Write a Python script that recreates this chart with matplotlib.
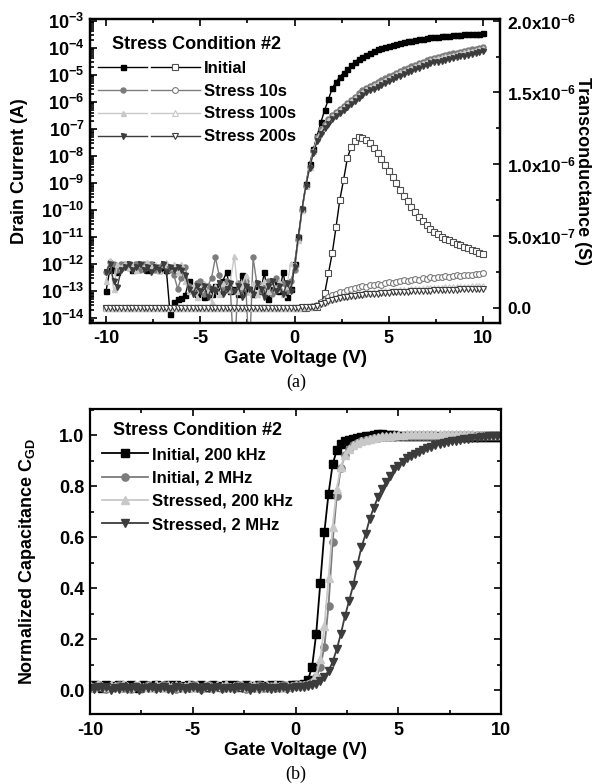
import numpy as np
import matplotlib
matplotlib.use("Agg")
import matplotlib.pyplot as plt
from matplotlib.ticker import LogLocator, FuncFormatter, MultipleLocator, NullFormatter
from matplotlib.legend_handler import HandlerTuple

#------------------------------------------------------------------------------
#Data

# gate voltage sweep, -10 V .. 10 V in 0.2 V steps
vg = np.linspace(-10, 10, 101)

# (a) drain current, log10(Id / A)
id_initial_log = [
    -13.0, -12.2, -12.1, -12.3, -12.1, -12.0, -12.1, -12.2, -12.0, -12.1,
    -12.1, -12.2, -12.0, -12.1, -12.2, -12.1, -12.2, -13.85, -13.4, -13.3,
    -13.25, -13.15, -12.6, -12.9, -13.1, -13.0, -13.2, -12.9, -13.1, -12.8,
    -13.0, -12.6, -12.3, -13.0, -12.9, -13.1, -12.4, -13.0, -12.9, -13.1,
    -12.8, -13.0, -12.3, -13.3, -12.9, -12.7, -13.0, -12.3, -13.2, -12.9,
    -12.0, -11.0, -9.95, -9.05, -8.3, -7.75, -7.25, -6.75, -6.3, -5.9,
    -5.5, -5.27, -5.07, -4.93, -4.8, -4.65, -4.52, -4.42, -4.34, -4.26,
    -4.18, -4.12, -4.06, -4.01, -3.96, -3.92, -3.89, -3.86, -3.83, -3.80,
    -3.77, -3.74, -3.72, -3.69, -3.67, -3.64, -3.62, -3.60, -3.59, -3.58,
    -3.56, -3.55, -3.54, -3.53, -3.52, -3.51, -3.50, -3.49, -3.48, -3.48,
    -3.47]
id_s10_log = [
    -12.3, -11.9, -12.0, -12.2, -12.0, -12.1, -12.0, -12.1, -12.0, -12.2,
    -12.0, -12.1, -12.0, -12.2, -12.1, -12.0, -12.1, -12.2, -12.4, -12.9,
    -12.5, -12.1, -12.8, -13.0, -12.7, -12.6, -13.1, -12.8, -12.5, -11.75,
    -12.4, -12.9, -12.6, -13.0, -15.5, -12.7, -12.9, -12.6, -15.5, -11.75,
    -12.7, -13.0, -12.8, -12.6, -13.1, -12.5, -12.9, -12.7, -13.0, -12.6,
    -12.2, -11.1, -10.0, -9.1, -8.4, -7.8, -7.3, -7.02, -6.82, -6.64,
    -6.48, -6.36, -6.25, -6.14, -6.03, -5.92, -5.81, -5.69, -5.58, -5.48,
    -5.41, -5.34, -5.27, -5.2, -5.13, -5.06, -4.99, -4.92, -4.86, -4.8,
    -4.74, -4.69, -4.63, -4.57, -4.52, -4.46, -4.41, -4.37, -4.34, -4.31,
    -4.27, -4.24, -4.21, -4.18, -4.15, -4.12, -4.09, -4.06, -4.03, -4.0,
    -3.97]
id_s100_log = [
    -12.6, -11.85, -12.9, -12.0, -12.1, -11.95, -12.1, -12.0, -12.2, -12.0,
    -12.1, -11.9, -12.1, -12.0, -12.2, -12.0, -11.9, -12.1, -12.0, -12.3,
    -12.0, -12.6, -13.0, -12.8, -13.2, -12.9, -12.7, -13.0, -13.4, -12.8,
    -13.1, -12.7, -12.9, -12.6, -11.7, -13.0, -12.8, -12.4, -13.0, -12.7,
    -13.1, -12.8, -12.6, -13.0, -12.7, -12.9, -12.6, -13.1, -12.8, -11.95,
    -12.0, -11.1, -10.0, -9.1, -8.4, -7.82, -7.35, -7.06, -6.86, -6.68,
    -6.52, -6.4, -6.29, -6.18, -6.07, -5.96, -5.85, -5.74, -5.63, -5.53,
    -5.46, -5.39, -5.32, -5.25, -5.18, -5.11, -5.04, -4.97, -4.91, -4.85,
    -4.79, -4.74, -4.68, -4.62, -4.57, -4.51, -4.46, -4.42, -4.39, -4.36,
    -4.32, -4.29, -4.26, -4.23, -4.2, -4.17, -4.14, -4.11, -4.08, -4.05,
    -4.02]
id_s200_log = [
    -12.3, -12.0, -12.6, -12.85, -12.2, -12.1, -12.0, -12.2, -12.1, -12.0,
    -12.2, -12.1, -12.3, -12.1, -12.2, -12.0, -12.3, -12.1, -12.2, -12.1,
    -12.2, -12.4, -12.9, -13.1, -12.8, -13.0, -12.8, -13.2, -12.9, -13.0,
    -12.7, -13.1, -12.9, -12.7, -13.0, -12.8, -13.2, -12.8, -12.9, -13.1,
    -12.7, -12.9, -13.2, -12.8, -12.6, -13.0, -12.8, -13.1, -12.7, -13.0,
    -12.1, -11.0, -9.95, -9.1, -8.45, -7.88, -7.45, -7.17, -6.97, -6.8,
    -6.64, -6.52, -6.41, -6.3, -6.19, -6.08, -5.97, -5.86, -5.75, -5.65,
    -5.58, -5.51, -5.44, -5.37, -5.3, -5.23, -5.16, -5.09, -5.03, -4.97,
    -4.91, -4.86, -4.8, -4.74, -4.69, -4.63, -4.58, -4.54, -4.51, -4.48,
    -4.44, -4.41, -4.38, -4.35, -4.32, -4.29, -4.26, -4.23, -4.2, -4.17,
    -4.14]

# (a) transconductance, units of 1e-7 S
gm_initial = [
    0.0, 0.0, 0.0, 0.0, 0.0, 0.0, 0.0, 0.0, 0.0, 0.0,
    0.0, 0.0, 0.0, 0.0, 0.0, 0.0, 0.0, 0.0, 0.0, 0.0,
    0.0, 0.0, 0.0, 0.0, 0.0, 0.0, 0.0, 0.0, 0.0, 0.0,
    0.0, 0.0, 0.0, 0.0, 0.0, 0.0, 0.0, 0.0, 0.0, 0.0,
    0.0, 0.0, 0.0, 0.0, 0.0, 0.0, 0.0, 0.0, 0.0, 0.0,
    0.0, 0.0, 0.0, 0.0, 0.01, 0.02, 0.05, 0.3, 1.0, 2.4,
    3.8, 5.6, 7.5, 8.9, 10.4, 11.2, 11.6, 11.9, 11.85, 11.7,
    11.45, 11.1, 10.75, 10.35, 9.95, 9.55, 9.1, 8.65, 8.2, 7.8,
    7.4, 7.0, 6.65, 6.3, 6.0, 5.75, 5.5, 5.3, 5.1, 4.95,
    4.8, 4.68, 4.56, 4.45, 4.35, 4.24, 4.13, 4.02, 3.92, 3.82,
    3.75]
gm_s10 = [
    0.0, 0.0, 0.0, 0.0, 0.0, 0.0, 0.0, 0.0, 0.0, 0.0,
    0.0, 0.0, 0.0, 0.0, 0.0, 0.0, 0.0, 0.0, 0.0, 0.0,
    0.0, 0.0, 0.0, 0.0, 0.0, 0.0, 0.0, 0.0, 0.0, 0.0,
    0.0, 0.0, 0.0, 0.0, 0.0, 0.0, 0.0, 0.0, 0.0, 0.0,
    0.0, 0.0, 0.0, 0.0, 0.0, 0.0, 0.0, 0.0, 0.0, 0.0,
    0.0, 0.0, 0.01, 0.02, 0.05, 0.1, 0.2, 0.4, 0.55, 0.7,
    0.85, 0.95, 1.05, 1.1, 1.2, 1.3, 1.35, 1.4, 1.5, 1.45,
    1.6, 1.55, 1.65, 1.6, 1.7, 1.75, 1.7, 1.8, 1.85, 1.9,
    1.85, 1.95, 2.0, 1.95, 2.05, 2.0, 2.1, 2.05, 2.15, 2.1,
    2.2, 2.15, 2.2, 2.25, 2.2, 2.3, 2.25, 2.3, 2.35, 2.35,
    2.4]
gm_s100 = [
    0.0, 0.0, 0.0, 0.0, 0.0, 0.0, 0.0, 0.0, 0.0, 0.0,
    0.0, 0.0, 0.0, 0.0, 0.0, 0.0, 0.0, 0.0, 0.0, 0.0,
    0.0, 0.0, 0.0, 0.0, 0.0, 0.0, 0.0, 0.0, 0.0, 0.0,
    0.0, 0.0, 0.0, 0.0, 0.0, 0.0, 0.0, 0.0, 0.0, 0.0,
    0.0, 0.0, 0.0, 0.0, 0.0, 0.0, 0.0, 0.0, 0.0, 0.0,
    0.0, 0.0, 0.01, 0.02, 0.04, 0.08, 0.15, 0.3, 0.4, 0.5,
    0.6, 0.65, 0.72, 0.78, 0.82, 0.86, 0.9, 0.93, 0.96, 1.0,
    1.02, 1.05, 1.07, 1.1, 1.12, 1.14, 1.16, 1.18, 1.2, 1.22,
    1.24, 1.26, 1.28, 1.3, 1.31, 1.33, 1.34, 1.36, 1.37, 1.38,
    1.4, 1.41, 1.42, 1.43, 1.44, 1.45, 1.46, 1.47, 1.48, 1.49,
    1.5]
gm_s200 = [
    0.0, 0.0, 0.0, 0.0, 0.0, 0.0, 0.0, 0.0, 0.0, 0.0,
    0.0, 0.0, 0.0, 0.0, 0.0, 0.0, 0.0, 0.0, 0.0, 0.0,
    0.0, 0.0, 0.0, 0.0, 0.0, 0.0, 0.0, 0.0, 0.0, 0.0,
    0.0, 0.0, 0.0, 0.0, 0.0, 0.0, 0.0, 0.0, 0.0, 0.0,
    0.0, 0.0, 0.0, 0.0, 0.0, 0.0, 0.0, 0.0, 0.0, 0.0,
    0.0, 0.0, 0.01, 0.02, 0.03, 0.06, 0.12, 0.25, 0.35, 0.45,
    0.53, 0.6, 0.66, 0.71, 0.75, 0.79, 0.82, 0.85, 0.88, 0.91,
    0.93, 0.95, 0.97, 0.99, 1.01, 1.03, 1.05, 1.07, 1.08, 1.1,
    1.11, 1.13, 1.14, 1.15, 1.16, 1.17, 1.18, 1.19, 1.2, 1.21,
    1.22, 1.23, 1.24, 1.25, 1.26, 1.27, 1.28, 1.29, 1.3, 1.31,
    1.32]

# (b) normalized C_GD
cv_init_200k = [
    0.012, 0.020, 0.015, 0.008, 0.018, 0.010, 0.016, 0.021, 0.011, 0.014,
    0.019, 0.013, 0.009, 0.020, 0.016, 0.011, 0.018, 0.014, 0.010, 0.021,
    0.015, 0.019, 0.012, 0.016, 0.020, 0.010, 0.015, 0.018, 0.013, 0.011,
    0.020, 0.016, 0.012, 0.019, 0.014, 0.021, 0.011, 0.015, 0.019, 0.016,
    0.012, 0.020, 0.015, 0.010, 0.018, 0.014, 0.020, 0.011, 0.016, 0.019,
    0.02, 0.02, 0.025, 0.04, 0.09, 0.22, 0.42, 0.62, 0.77, 0.885,
    0.94, 0.965, 0.975, 0.98, 0.985, 0.99, 0.993, 0.995, 0.997, 1.0,
    1.005, 1.005, 1.0, 1.0, 1.0, 0.998, 0.998, 0.997, 0.997, 0.996,
    0.996, 0.996, 0.995, 0.995, 0.995, 0.994, 0.994, 0.994, 0.993, 0.993,
    0.993, 0.993, 0.992, 0.992, 0.992, 0.992, 0.992, 0.992, 0.992, 0.992,
    0.992]
cv_init_2m = [
    0.015, 0.006, 0.018, 0.012, 0.004, 0.016, 0.010, 0.020, 0.008, 0.013,
    0.005, 0.017, 0.011, 0.007, 0.019, 0.012, 0.006, 0.015, 0.018, 0.009,
    0.013, 0.004, 0.016, 0.010, 0.007, 0.018, 0.012, 0.005, 0.016, 0.020,
    0.009, 0.013, 0.006, 0.017, 0.011, 0.008, 0.019, 0.012, 0.005, 0.015,
    0.010, 0.018, 0.007, 0.013, 0.016, 0.006, 0.012, 0.019, 0.009, 0.014,
    0.02, 0.02, 0.02, 0.025, 0.03, 0.05, 0.09, 0.17, 0.33, 0.58,
    0.76, 0.87, 0.92, 0.945, 0.96, 0.97, 0.975, 0.98, 0.985, 0.988,
    0.99, 0.991, 0.992, 0.993, 0.994, 0.995, 0.995, 0.996, 0.996, 0.997,
    0.997, 0.997, 0.998, 0.998, 0.998, 0.998, 0.999, 0.999, 0.999, 0.999,
    0.999, 1.0, 1.0, 1.0, 1.0, 1.0, 1.0, 1.0, 1.0, 1.0,
    1.0]
cv_str_200k = [
    0.018, 0.012, 0.022, 0.014, 0.010, 0.020, 0.016, 0.011, 0.023, 0.015,
    0.012, 0.019, 0.021, 0.013, 0.017, 0.010, 0.022, 0.016, 0.012, 0.019,
    0.014, 0.020, 0.011, 0.017, 0.023, 0.013, 0.018, 0.010, 0.021, 0.015,
    0.012, 0.019, 0.016, 0.022, 0.011, 0.017, 0.014, 0.020, 0.013, 0.018,
    0.021, 0.012, 0.016, 0.019, 0.010, 0.022, 0.015, 0.013, 0.020, 0.017,
    0.02, 0.02, 0.02, 0.025, 0.03, 0.06, 0.12, 0.25, 0.44, 0.64,
    0.79, 0.875, 0.92, 0.945, 0.96, 0.97, 0.977, 0.982, 0.986, 0.99,
    0.993, 0.995, 0.997, 0.998, 0.999, 1.0, 1.002, 1.003, 1.004, 1.005,
    1.005, 1.005, 1.005, 1.005, 1.005, 1.005, 1.005, 1.005, 1.004, 1.004,
    1.004, 1.003, 1.003, 1.003, 1.002, 1.002, 1.002, 1.001, 1.001, 1.0,
    1.0]
cv_str_2m = [
    0.008, 0.003, 0.012, 0.006, 0.010, 0.001, 0.009, 0.005, 0.013, 0.004,
    0.007, 0.011, 0.002, 0.009, 0.006, 0.012, 0.003, 0.008, 0.010, 0.005,
    0.001, 0.011, 0.007, 0.004, 0.009, 0.012, 0.006, 0.002, 0.010, 0.008,
    0.005, 0.011, 0.003, 0.007, 0.009, 0.004, 0.012, 0.006, 0.010, 0.002,
    0.008, 0.005, 0.011, 0.007, 0.003, 0.009, 0.006, 0.010, 0.004, 0.008,
    0.01, 0.01, 0.01, 0.015, 0.02, 0.025, 0.035, 0.05, 0.075, 0.11,
    0.16, 0.22, 0.29, 0.35, 0.41, 0.49, 0.56, 0.61, 0.67, 0.715,
    0.755, 0.79, 0.815, 0.84, 0.865, 0.88, 0.895, 0.908, 0.918, 0.927,
    0.935, 0.943, 0.949, 0.954, 0.959, 0.964, 0.968, 0.972, 0.975, 0.978,
    0.981, 0.984, 0.986, 0.988, 0.99, 0.992, 0.994, 0.995, 0.996, 0.997,
    0.998]

labels_a = ["Initial", "Stress 10s", "Stress 100s", "Stress 200s"]
labels_b = ["Initial, 200 kHz", "Initial, 2 MHz", "Stressed, 200 kHz", "Stressed, 2 MHz"]

#------------------------------------------------------------------------------
#Style

plt.rcParams['font.family'] = ['Liberation Sans', 'DejaVu Sans']
plt.rcParams['font.weight'] = 'bold'
plt.rcParams['axes.labelweight'] = 'bold'
plt.rcParams['axes.unicode_minus'] = False
plt.rcParams['mathtext.fontset'] = 'custom'
plt.rcParams['mathtext.rm'] = 'Liberation Sans:bold'
plt.rcParams['mathtext.bf'] = 'Liberation Sans:bold'
plt.rcParams['mathtext.it'] = 'Liberation Sans:bold'
plt.rcParams['mathtext.default'] = 'rm'
plt.rcParams['axes.linewidth'] = 1.6

colors = ['#000000', '#7c7c7c', '#c8c8c8', '#3c3c3c']
open_edges = ['#505050', '#7c7c7c', '#c8c8c8', '#3c3c3c']
markers = ['s', 'o', '^', 'v']

def ticks_in(ax, **kw):
    ax.tick_params(which='both', direction='in', width=1.2, **kw)
    ax.tick_params(which='major', length=5)
    ax.tick_params(which='minor', length=3)

fig = plt.figure(figsize=(5.96, 7.84), dpi=100)

#------------------------------------------------------------------------------
#(a) Id and gm

ax1 = fig.add_axes([0.151, 0.588, 0.688, 0.3874])
ax1.set_yscale('log')
id_sets = [id_initial_log, id_s10_log, id_s100_log, id_s200_log]
filled = []
for logs, c, m in zip(id_sets, colors, markers):
    ln, = ax1.plot(vg, 10.0 ** np.array(logs), color=c, marker=m, ms=3.6,
                   mfc=c, mec=c, lw=1.0)
    filled.append(ln)
ax1.set_xlim(-10.85, 10.9)
ax1.set_ylim(10 ** -14.17, 10 ** -2.95)
ax1.xaxis.set_major_locator(MultipleLocator(5))
ax1.xaxis.set_minor_locator(MultipleLocator(2.5))
ax1.yaxis.set_major_locator(LogLocator(base=10, numticks=30))
ax1.yaxis.set_minor_locator(LogLocator(base=10, subs=np.arange(2, 10), numticks=300))
ax1.yaxis.set_minor_formatter(NullFormatter())
ax1.yaxis.set_major_formatter(FuncFormatter(lambda v, p: '$10^{%d}$' % int(round(np.log10(v)))))
ticks_in(ax1, top=True, right=False)
ax1.tick_params(axis='y', labelsize=13, pad=4)
ax1.tick_params(axis='x', labelsize=13, pad=5)
ax1.set_ylabel('Drain Current (A)', fontsize=13)
ax1.yaxis.set_label_coords(-0.152, 0.5)
ax1.set_xlabel('Gate Voltage (V)', fontsize=13.5, va='top')
ax1.xaxis.set_label_coords(0.5, -0.088)

ax2 = ax1.twinx()
gm_sets = [gm_initial, gm_s10, gm_s100, gm_s200]
opened = []
for g, c, ec, m in zip(gm_sets, colors, open_edges, markers):
    ln, = ax2.plot(vg, np.array(g) * 1e-7, color=c, marker=m, ms=4.2,
                   mfc='white', mec=ec, mew=0.8, lw=1.0)
    opened.append(ln)
ax2.set_ylim(-1.08e-7, 2.01e-6)
ax2.set_yticks([0, 0.5e-6, 1.0e-6, 1.5e-6, 2.0e-6],
               ['0.0', '$5.0x10^{-7}$', '$1.0x10^{-6}$', '$1.5x10^{-6}$', '$2.0x10^{-6}$'])
ax2.yaxis.set_minor_locator(MultipleLocator(0.25e-6))
ticks_in(ax2, right=True, left=False)
ax2.tick_params(axis='y', labelsize=12.5, pad=5)
ax2.set_ylabel('Transconductance (S)', fontsize=13, rotation=270, va='bottom')
ax2.yaxis.set_label_coords(1.18, 0.5)

leg_a = ax2.legend([(f, o) for f, o in zip(filled, opened)], labels_a,
                   handler_map={tuple: HandlerTuple(ndivide=None, pad=0.2)},
                   title='Stress Condition #2', title_fontproperties={'weight': 'bold', 'size': 13},
                   prop={'weight': 'bold', 'size': 12}, frameon=False,
                   loc='upper left', bbox_to_anchor=(98 / 596, 1 - 36 / 784),
                   bbox_transform=fig.transFigure, borderpad=0, borderaxespad=0,
                   handlelength=6.1, handletextpad=0.25, labelspacing=0.47)

fig.text(296 / 596, 1 - 382 / 784, '(a)', family='Liberation Serif', weight='normal',
         fontsize=13, ha='center', va='center')

#------------------------------------------------------------------------------
#(b) C-V

ax3 = fig.add_axes([0.151, 0.0893, 0.690, 0.389])
cv_sets = [cv_init_200k, cv_init_2m, cv_str_200k, cv_str_2m]
sizes = [5.2, 5.2, 5.6, 6.2]
cv_lines = []
for cv, c, m, s in zip(cv_sets, colors, markers, sizes):
    ln, = ax3.plot(vg, cv, color=c, marker=m, ms=s, mfc=c, mec=c, lw=1.3)
    cv_lines.append(ln)
ax3.set_xlim(-10, 10)
ax3.set_ylim(-0.094, 1.102)
ax3.xaxis.set_major_locator(MultipleLocator(5))
ax3.xaxis.set_minor_locator(MultipleLocator(2.5))
ax3.yaxis.set_major_locator(MultipleLocator(0.2))
ax3.yaxis.set_minor_locator(MultipleLocator(0.1))
ax3.yaxis.set_major_formatter(FuncFormatter(lambda v, p: '%.1f' % v))
ticks_in(ax3, top=True, right=True)
ax3.tick_params(axis='y', labelsize=13, pad=4)
ax3.tick_params(axis='x', labelsize=13, pad=6)
ax3.set_ylabel('Normalized Capacitance C$_{\\mathregular{GD}}$', fontsize=13)
ax3.yaxis.set_label_coords(-0.127, 0.5)
ax3.set_xlabel('Gate Voltage (V)', fontsize=13.5, va='top')
ax3.xaxis.set_label_coords(0.5, -0.092)

leg_b = ax3.legend(cv_lines, labels_b, title='Stress Condition #2',
                   title_fontproperties={'weight': 'bold', 'size': 13},
                   prop={'weight': 'bold', 'size': 12}, frameon=False,
                   loc='upper left', bbox_to_anchor=(102 / 596, 1 - 422 / 784),
                   bbox_transform=fig.transFigure, borderpad=0, borderaxespad=0,
                   handlelength=2.75, handletextpad=0.25, labelspacing=0.5)

fig.text(296 / 596, 1 - 774 / 784, '(b)', family='Liberation Serif', weight='normal',
         fontsize=13, ha='center', va='center')

fig.savefig('out.png', dpi=100)
